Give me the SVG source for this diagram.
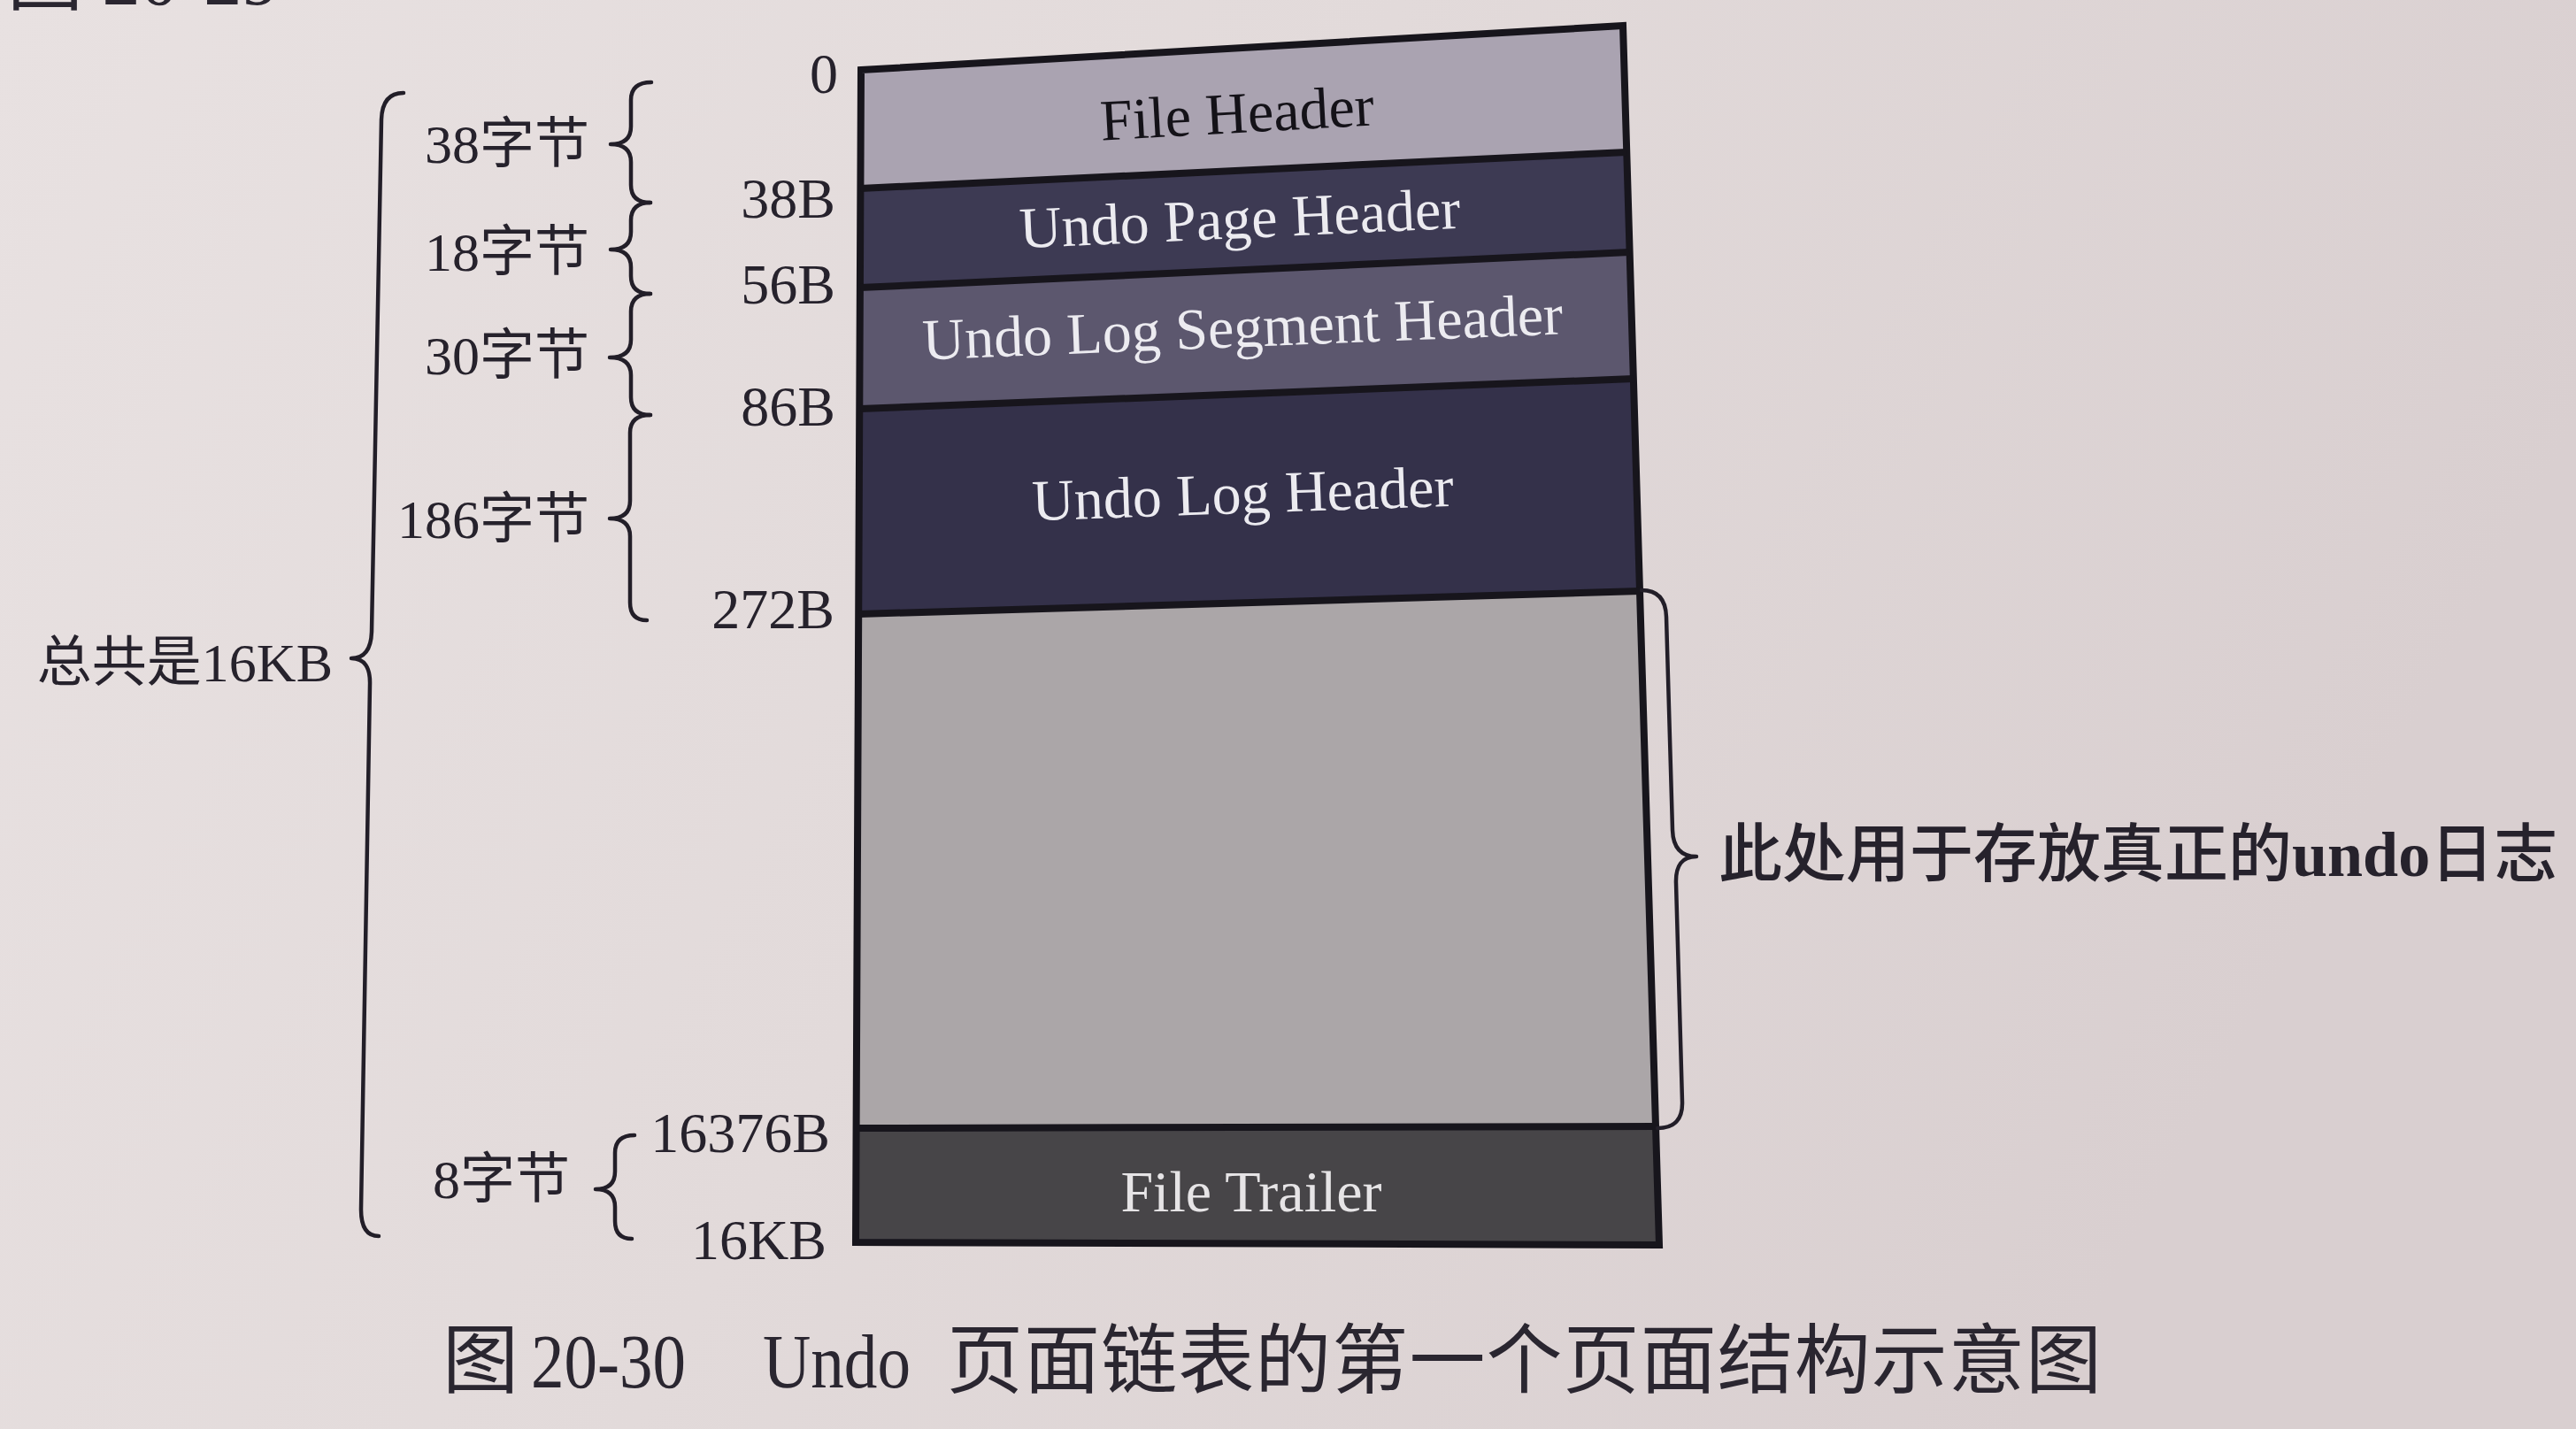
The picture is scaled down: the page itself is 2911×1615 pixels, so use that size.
<svg xmlns="http://www.w3.org/2000/svg" width="2911" height="1615" viewBox="0 0 2911 1615">
  <defs>
    <linearGradient id="paper" x1="0" y1="0" x2="1" y2="0.3">
      <stop offset="0" stop-color="#e8e1e1"/>
      <stop offset="0.5" stop-color="#e2dada"/>
      <stop offset="1" stop-color="#d9cfd0"/>
    </linearGradient>
    <style>
      .lbl { font-family: "Liberation Serif", "Noto Sans CJK SC", serif; fill: #26222c; }
      .off { font-size: 64px; text-anchor: end; }
      .len { font-size: 62px; text-anchor: end; }
      .brace { fill: none; stroke: #221e28; stroke-width: 4.5; stroke-linecap: round; stroke-linejoin: round; }
      .seg-title { font-family: "Liberation Serif", serif; font-size: 66px; text-anchor: middle; }
      .edge { fill: none; stroke: #17151c; stroke-width: 8; stroke-linejoin: miter; }
      .div { stroke: #17151c; stroke-width: 8; }
      .cap { font-family: "Liberation Serif", "Noto Sans CJK SC", serif; font-size: 86px; fill: #2a2630; }
    </style>
  </defs>

  <!-- page background -->
  <rect x="0" y="0" width="2911" height="1615" fill="url(#paper)"/>

  <!-- previous caption, cut by the top edge -->
  <text class="cap" x="8" y="5" font-size="72">图 20-29</text>

  <!-- page layout stack -->
  <g id="seg-file-header">
    <polygon points="973,79 1834,29 1838,172 972,213" fill="#aaa3b1"/>
    <text class="seg-title" x="1399" y="150" fill="#141218" transform="rotate(-3.2 1399 150)">File Header</text>
  </g>
  <g id="seg-undo-page-header">
    <polygon points="972,213 1838,172 1841,285 972,325" fill="#3d3a53"/>
    <text class="seg-title" x="1402" y="269" fill="#ecebf0" transform="rotate(-2.6 1402 269)">Undo Page Header</text>
  </g>
  <g id="seg-undo-log-segment-header">
    <polygon points="972,325 1841,285 1846,428 972,462" fill="#5c576e"/>
    <text class="seg-title" x="1405" y="392" fill="#ecebf0" transform="rotate(-2.3 1405 392)">Undo Log Segment Header</text>
  </g>
  <g id="seg-undo-log-header">
    <polygon points="972,462 1846,428 1853,668 971,694" fill="#34314a"/>
    <text class="seg-title" x="1405" y="580" fill="#ecebf0" transform="rotate(-2.0 1405 580)">Undo Log Header</text>
  </g>
  <g id="seg-log-area">
    <polygon points="971,694 1853,668 1871,1273 969,1275" fill="#aba6a8"/>
  </g>
  <g id="seg-file-trailer">
    <polygon points="969,1275 1871,1273 1875,1407 967,1404" fill="#474548"/>
    <text class="seg-title" x="1414" y="1369" font-size="68" fill="#e6e4e6">File Trailer</text>
  </g>

  <!-- outline and dividers of the stack -->
  <g id="stack-lines">
    <polygon class="edge" points="973,79 1834,29 1875,1407 967,1404"/>
    <line class="div" x1="972" y1="213" x2="1838" y2="172"/>
    <line class="div" x1="972" y1="325" x2="1841" y2="285"/>
    <line class="div" x1="972" y1="462" x2="1846" y2="428"/>
    <line class="div" x1="971" y1="694" x2="1853" y2="668"/>
    <line class="div" x1="969" y1="1275" x2="1871" y2="1273"/>
  </g>

  <!-- byte offsets -->
  <g id="offsets" class="lbl off">
    <text x="947" y="105">0</text>
    <text x="944" y="246">38B</text>
    <text x="944" y="343">56B</text>
    <text x="944" y="481">86B</text>
    <text x="943" y="710">272B</text>
    <text x="938" y="1302">16376B</text>
    <text x="934" y="1423">16KB</text>
  </g>

  <!-- braces -->
  <g id="connectors">
    <path class="brace" d="M736,93 Q713,93 713,113 L713,143 Q713,163 690,163 Q713,163 713,183 L713,209 Q713,229 735,229"/>
    <path class="brace" d="M735,229 Q713,229 713,249 L713,262 Q713,282 690,282 Q713,282 713,302 L713,312 Q713,332 735,332"/>
    <path class="brace" d="M735,332 Q713,332 713,352 L713,384 Q713,404 689,404 Q713,404 713,424 L713,449 Q713,469 735,469"/>
    <path class="brace" d="M735,469 Q712,469 712,489 L712,566 Q712,586 689,586 Q712,586 712,606 L712,681 Q712,701 731,701"/>
    <path class="brace" d="M456,105 Q432,105 431,135 L420,714 Q419,744 397,744 Q419,744 418,774 L408,1367 Q408,1397 428,1397"/>
    <path class="brace" d="M717,1283 Q695,1283 695,1303 L695,1324 Q695,1344 673,1344 Q695,1344 695,1364 L695,1380 Q695,1400 714,1400"/>
    <path class="brace" d="M1855,667 Q1882,667 1883,697 L1890,938 Q1891,968 1917,968 Q1893,968 1894,998 L1901,1245 Q1902,1275 1873,1275"/>
  </g>

  <!-- section lengths -->
  <g id="lengths" class="lbl len">
    <text x="666" y="184">38字节</text>
    <text x="666" y="306">18字节</text>
    <text x="666" y="423">30字节</text>
    <text x="666" y="608">186字节</text>
    <text x="644" y="1354">8字节</text>
    <text x="376" y="770">总共是16KB</text>
  </g>

  <!-- note on the log area -->
  <g id="note">
    <text class="lbl" x="1942" y="990" font-size="72" font-weight="500" fill="#1e1a22">此处用于存放真正的<tspan font-weight="bold">undo</tspan>日志</text>
  </g>

  <!-- caption -->
  <g id="caption" class="cap">
    <text x="500" y="1568">图</text>
    <text x="600" y="1568" textLength="175" lengthAdjust="spacingAndGlyphs">20-30</text>
    <text x="862" y="1568" textLength="167" lengthAdjust="spacingAndGlyphs">Undo</text>
    <text x="1070" y="1568" textLength="1305" lengthAdjust="spacing">页面链表的第一个页面结构示意图</text>
  </g>
</svg>
